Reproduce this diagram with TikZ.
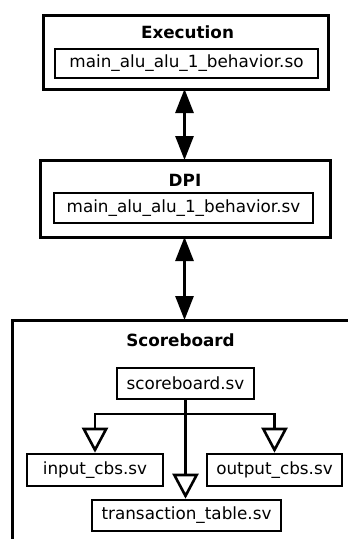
\documentclass[tikz,border=0pt]{standalone}
\usepackage{fontspec}
\setmainfont{DejaVu Sans}
\usetikzlibrary{arrows.meta}
\begin{document}
\begin{tikzpicture}[x=1pt,y=-1pt,
  every node/.style={font=\fontsize{16.8}{19}\selectfont, inner sep=0pt},
  outerbox/.style={draw, line width=3pt, rectangle},
  filebox/.style={draw, line width=2.6pt, rectangle},
  titletext/.style={font=\fontsize{16.8}{19}\selectfont\bfseries},
  dblarrow/.style={line width=2.8pt, {Triangle[width=18pt,length=24pt]}-{Triangle[width=18pt,length=24pt]}},
  derive/.style={line width=2.6pt, -{Triangle[open,width=26pt,length=25pt]}},
]
\useasboundingbox[fill=white] (0,0) rectangle (348,539);

% Execution block
\node[outerbox, minimum width=285pt, minimum height=74pt] (exe) at (185.5,52) {};
\node[titletext] (exetitle) at (187.5,32) {Execution};
\node[filebox, minimum width=263pt, minimum height=29pt] (exeso) at (186.5,63.5) {main\_alu\_alu\_1\_behavior.so};

% DPI block
\node[outerbox, minimum width=290pt, minimum height=77pt] (dpi) at (185,198.5) {};
\node[titletext] (dpititle) at (185,180) {DPI};
\node[filebox, minimum width=259pt, minimum height=30pt] (dpisv) at (183.5,208) {main\_alu\_alu\_1\_behavior.sv};

% Scoreboard block (runs past the right and bottom edges)
\node[outerbox, minimum width=368pt, minimum height=240pt] (sbblock) at (196,440) {};
\node[titletext] (sbtitle) at (180.5,340) {Scoreboard};
\node[filebox, minimum width=137pt, minimum height=31pt] (sb) at (185.5,383.5) {scoreboard.sv};
\node[filebox, minimum width=136pt, minimum height=32pt] (incbs) at (95,470) {input\_cbs.sv};
\node[filebox, minimum width=135pt, minimum height=32pt] (outcbs) at (274.5,470) {output\_cbs.sv};
\node[filebox, minimum width=189pt, minimum height=31pt] (tt) at (186.5,515.5) {transaction\_table.sv};

% Links between blocks
\draw[dblarrow] (184.5,89) coordinate (exebot) -- (184.5,160) coordinate (dpitop);
\draw[dblarrow] (184.5,237) coordinate (dpibot) -- (184.5,320) coordinate (sbtop);

% Scoreboard hierarchy
\coordinate (branch) at (185.5,414);
\draw[line width=2.6pt] (sb.south) -- (branch);
\draw[derive] (branch) -| (incbs.north);
\draw[derive] (branch) -| (outcbs.north);
\draw[derive] (branch) -- (branch |- tt.north);
\end{tikzpicture}
\end{document}
